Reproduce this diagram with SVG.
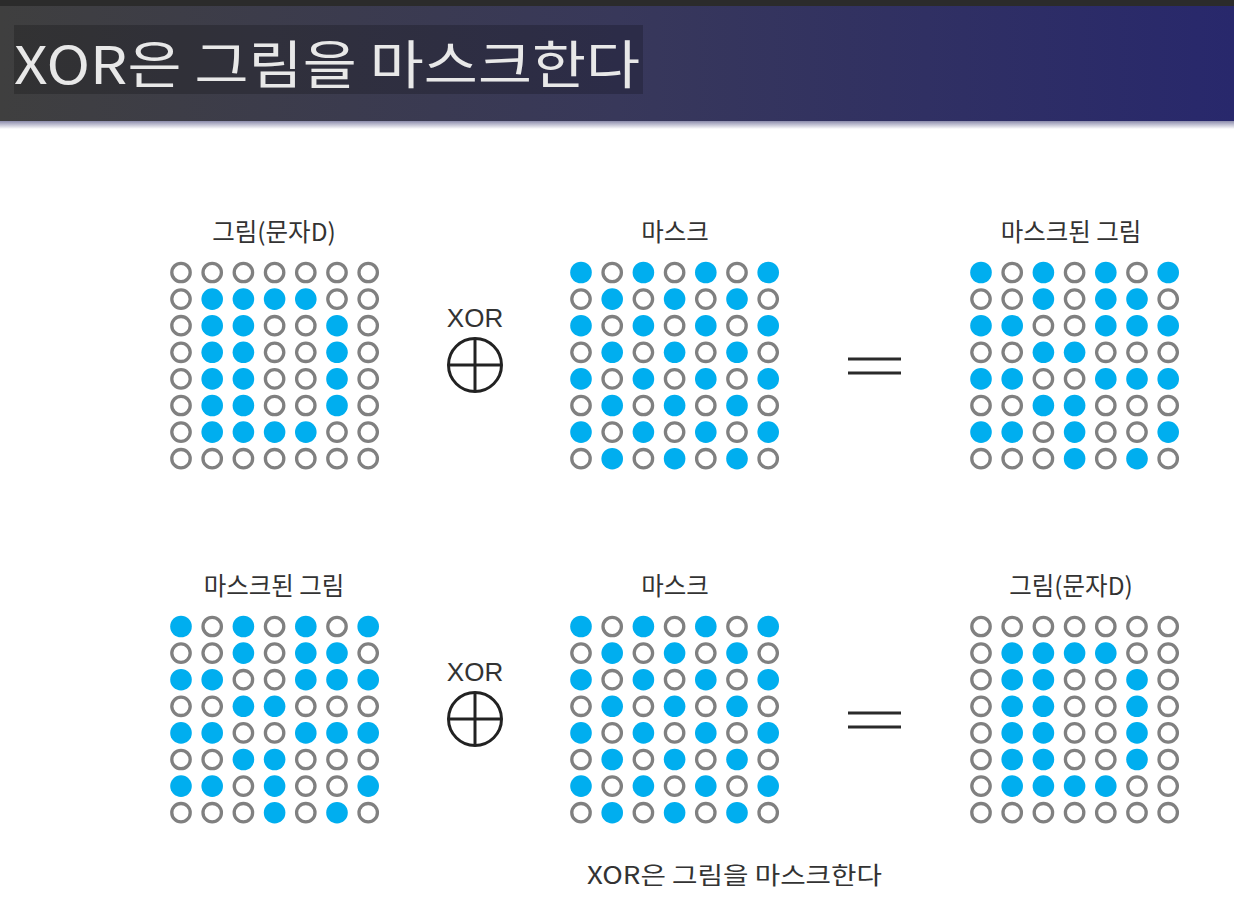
<svg xmlns="http://www.w3.org/2000/svg" xmlns:xlink="http://www.w3.org/1999/xlink" width="1234" height="921" viewBox="0 0 1234 921">
<style>
.on{fill:#00aeef}
.off{fill:none;stroke:#808080;stroke-width:3.3}
.lbl{font-family:"Noto Sans CJK KR","Noto Sans",sans-serif;font-size:24.5px;fill:#333;text-anchor:middle}
.xor{font-family:"Liberation Sans",Arial,sans-serif;font-size:26px;fill:#333;text-anchor:middle}
.sym{fill:none;stroke:#222;stroke-width:3}
.eq{stroke:#2a2a2a;stroke-width:3}
</style>
<defs>
<linearGradient id="bar" x1="0" y1="0" x2="1" y2="0">
<stop offset="0" stop-color="#3f3f3f"/>
<stop offset="0.5" stop-color="#38385a"/>
<stop offset="1" stop-color="#28286c"/>
</linearGradient>
<linearGradient id="edge" x1="0" y1="0" x2="0" y2="1">
<stop offset="0" stop-color="#8c8cac"/>
<stop offset="1" stop-color="#ffffff"/>
</linearGradient>
<circle id="a" class="on" r="10.8"/>
<circle id="b" class="off" r="9.2"/>
<g id="rA"><use href="#b" x="0"/><use href="#b" x="31.2"/><use href="#b" x="62.4"/><use href="#b" x="93.6"/><use href="#b" x="124.8"/><use href="#b" x="156"/><use href="#b" x="187.2"/></g>
<g id="rB"><use href="#b" x="0"/><use href="#a" x="31.2"/><use href="#a" x="62.4"/><use href="#a" x="93.6"/><use href="#a" x="124.8"/><use href="#b" x="156"/><use href="#b" x="187.2"/></g>
<g id="rC"><use href="#b" x="0"/><use href="#a" x="31.2"/><use href="#a" x="62.4"/><use href="#b" x="93.6"/><use href="#b" x="124.8"/><use href="#a" x="156"/><use href="#b" x="187.2"/></g>
<g id="rM1"><use href="#a" x="0"/><use href="#b" x="31.2"/><use href="#a" x="62.4"/><use href="#b" x="93.6"/><use href="#a" x="124.8"/><use href="#b" x="156"/><use href="#a" x="187.2"/></g>
<g id="rM2"><use href="#b" x="0"/><use href="#a" x="31.2"/><use href="#b" x="62.4"/><use href="#a" x="93.6"/><use href="#b" x="124.8"/><use href="#a" x="156"/><use href="#b" x="187.2"/></g>
<g id="rX1"><use href="#b" x="0"/><use href="#b" x="31.2"/><use href="#a" x="62.4"/><use href="#b" x="93.6"/><use href="#a" x="124.8"/><use href="#a" x="156"/><use href="#b" x="187.2"/></g>
<g id="rX2"><use href="#a" x="0"/><use href="#a" x="31.2"/><use href="#b" x="62.4"/><use href="#b" x="93.6"/><use href="#a" x="124.8"/><use href="#a" x="156"/><use href="#a" x="187.2"/></g>
<g id="rX3"><use href="#b" x="0"/><use href="#b" x="31.2"/><use href="#a" x="62.4"/><use href="#a" x="93.6"/><use href="#b" x="124.8"/><use href="#b" x="156"/><use href="#b" x="187.2"/></g>
<g id="rX4"><use href="#a" x="0"/><use href="#a" x="31.2"/><use href="#b" x="62.4"/><use href="#a" x="93.6"/><use href="#b" x="124.8"/><use href="#b" x="156"/><use href="#a" x="187.2"/></g>
<g id="rX5"><use href="#b" x="0"/><use href="#b" x="31.2"/><use href="#b" x="62.4"/><use href="#a" x="93.6"/><use href="#b" x="124.8"/><use href="#a" x="156"/><use href="#b" x="187.2"/></g>
<g id="gD"><use href="#rA" y="0"/><use href="#rB" y="26.6"/><use href="#rC" y="53.2"/><use href="#rC" y="79.8"/><use href="#rC" y="106.4"/><use href="#rC" y="133"/><use href="#rB" y="159.6"/><use href="#rA" y="186.2"/></g>
<g id="gM"><use href="#rM1" y="0"/><use href="#rM2" y="26.6"/><use href="#rM1" y="53.2"/><use href="#rM2" y="79.8"/><use href="#rM1" y="106.4"/><use href="#rM2" y="133"/><use href="#rM1" y="159.6"/><use href="#rM2" y="186.2"/></g>
<g id="gX"><use href="#rM1" y="0"/><use href="#rX1" y="26.6"/><use href="#rX2" y="53.2"/><use href="#rX3" y="79.8"/><use href="#rX2" y="106.4"/><use href="#rX3" y="133"/><use href="#rX4" y="159.6"/><use href="#rX5" y="186.2"/></g>
<g id="oplus"><circle class="sym" r="26.5"/><line class="sym" x1="-26.5" y1="0" x2="26.5" y2="0"/><line class="sym" x1="0" y1="-26.5" x2="0" y2="26.5"/></g>
<g id="equals"><line class="eq" x1="848" y1="359" x2="901" y2="359"/><line class="eq" x1="848" y1="373" x2="901" y2="373"/></g>
</defs>
<rect width="1234" height="921" fill="#ffffff"/>
<g id="header">
<rect x="0" y="0" width="1234" height="6" fill="#2b2b2b"/>
<rect x="0" y="6" width="1234" height="115" fill="url(#bar)"/>
<rect x="0" y="121" width="1234" height="8" fill="url(#edge)"/>
<rect x="14" y="25" width="629" height="69" fill="#000" fill-opacity="0.2"/>
<text x="14" y="84" font-family="'Noto Sans CJK KR','Noto Sans',sans-serif" font-size="52" fill="#e8e8e8" textLength="626" lengthAdjust="spacingAndGlyphs">XOR은 그림을 마스크한다</text>
</g>
<g id="top-picture"><text class="lbl" x="274" y="241">그림(문자D)</text><use href="#gD" x="181" y="272.5"/></g>
<g id="top-xor"><text class="xor" x="475" y="327">XOR</text><use href="#oplus" x="475" y="365"/></g>
<g id="top-mask"><text class="lbl" x="675" y="241">마스크</text><use href="#gM" x="581" y="272.5"/></g>
<g id="top-equals"><use href="#equals"/></g>
<g id="top-result"><text class="lbl" x="1071" y="241">마스크된 그림</text><use href="#gX" x="981" y="272.5"/></g>
<g id="bottom-picture"><text class="lbl" x="274" y="595">마스크된 그림</text><use href="#gX" x="181" y="626.5"/></g>
<g id="bottom-xor"><text class="xor" x="475" y="681">XOR</text><use href="#oplus" x="475" y="719"/></g>
<g id="bottom-mask"><text class="lbl" x="675" y="595">마스크</text><use href="#gM" x="581" y="626.5"/></g>
<g id="bottom-equals"><use href="#equals" y="354"/></g>
<g id="bottom-result"><text class="lbl" x="1071" y="595">그림(문자D)</text><use href="#gD" x="981" y="626.5"/></g>
<g id="connectors"></g>
<text id="caption" x="734.5" y="884" font-family="'Noto Sans CJK KR','Noto Sans',sans-serif" font-size="24" fill="#333" text-anchor="middle" textLength="295" lengthAdjust="spacingAndGlyphs">XOR은 그림을 마스크한다</text>
</svg>
